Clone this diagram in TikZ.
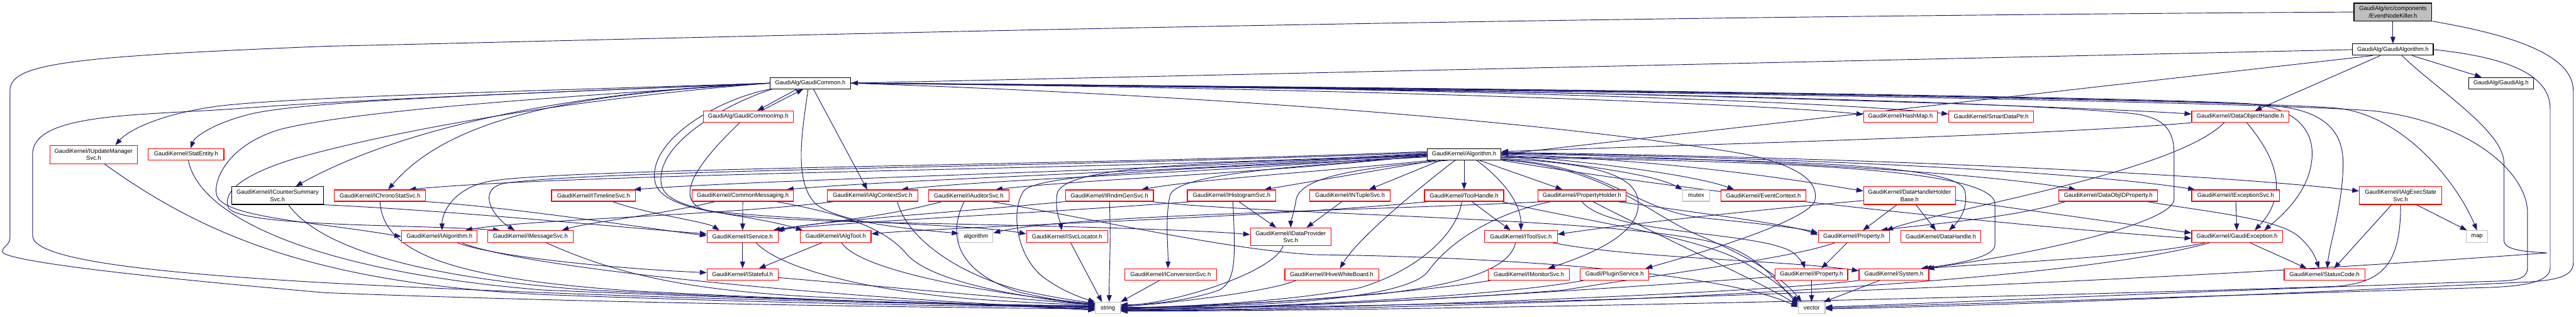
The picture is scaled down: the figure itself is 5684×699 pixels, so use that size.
\documentclass[tikz,border=0pt]{standalone}
\usepackage{fontspec}
\setmainfont{Liberation Sans}
\usetikzlibrary{arrows.meta,calc,backgrounds}
\definecolor{ec}{HTML}{191970}
\definecolor{gb}{HTML}{BFBFBF}
\tikzset{
 nb/.style={draw=black, fill=white, line width=0.8pt, inner sep=0pt, align=center, font=\fontsize{6.5pt}{8pt}\selectfont},
 rb/.style={nb, draw=red},
 gbx/.style={nb, draw=gb},
 kb/.style={nb, fill=gb},
 e/.style={draw=ec, line width=0.65pt, -{Triangle[length=7.5pt,width=5.5pt]}},
}
\newcommand\nd[7]{\node[#6, minimum width=#4*0.5pt, minimum height=#5*0.5pt] (#1) at (#2,#3) {#7};}
\begin{document}
\begin{tikzpicture}[x=0.5pt,y=-0.5pt]
\useasboundingbox (0,0) rectangle (5684,699);
% ---------------- nodes
\nd{ENK}{5280}{26.5}{172}{39}{kb}{GaudiAlg/src/components\\/EventNodeKiller.h}
\nd{GA}{5280}{109.5}{178}{25}{nb}{GaudiAlg/GaudiAlgorithm.h}
\nd{GAH}{5518.5}{183.5}{143}{25}{nb}{GaudiAlg/GaudiAlg.h}
\nd{GC}{1788}{183.5}{178}{25}{nb}{GaudiAlg/GaudiCommon.h}
\nd{GCI}{1651}{257.5}{198}{25}{rb}{GaudiAlg/GaudiCommonImp.h}
\nd{HM}{4193.5}{257.5}{163}{25}{rb}{GaudiKernel/HashMap.h}
\nd{SDP}{4393.5}{257.5}{187}{25}{rb}{GaudiKernel/SmartDataPtr.h}
\nd{DOH}{4943.5}{257.5}{215}{25}{rb}{GaudiKernel/DataObjectHandle.h}
\nd{UMS}{206.5}{341}{193}{40}{rb}{GaudiKernel/IUpdateManager\\Svc.h}
\nd{SE}{410.5}{340.5}{167}{25}{rb}{GaudiKernel/StatEntity.h}
\nd{ALG}{3230.5}{340.5}{163}{25}{nb}{GaudiKernel/Algorithm.h}
\nd{CSS}{612.5}{431.5}{203}{39}{nb}{GaudiKernel/ICounterSummary\\Svc.h}
\nd{CSV}{838.5}{431.5}{201}{25}{rb}{GaudiKernel/IChronoStatSvc.h}
\nd{TLS}{1309.5}{431.5}{185}{25}{rb}{GaudiKernel/ITimelineSvc.h}
\nd{CM}{1639}{431.5}{224}{25}{rb}{GaudiKernel/CommonMessaging.h}
\nd{ACS}{1925.5}{431.5}{199}{25}{rb}{GaudiKernel/IAlgContextSvc.h}
\nd{AUD}{2137.5}{431.5}{177}{25}{rb}{GaudiKernel/IAuditorSvc.h}
\nd{RND}{2448}{431.5}{194}{25}{rb}{GaudiKernel/IRndmGenSvc.h}
\nd{HIS}{2717.5}{431.5}{195}{25}{rb}{GaudiKernel/IHistogramSvc.h}
\nd{NTS}{2979}{431.5}{178}{25}{rb}{GaudiKernel/INTupleSvc.h}
\nd{TH}{3230.5}{431.5}{175}{25}{rb}{GaudiKernel/ToolHandle.h}
\nd{PH}{3490.5}{431.5}{195}{25}{rb}{GaudiKernel/PropertyHolder.h}
\nd{MTX}{3742.5}{431.5}{59}{25}{gbx}{mutex}
\nd{EC}{3891}{431.5}{188}{25}{rb}{GaudiKernel/EventContext.h}
\nd{DHHB}{4213.5}{431.5}{203}{39}{rb}{GaudiKernel/DataHandleHolder\\Base.h}
\nd{DOP}{4652}{431.5}{218}{25}{rb}{GaudiKernel/DataObjIDProperty.h}
\nd{EXS}{4933}{431.5}{194}{25}{rb}{GaudiKernel/IExceptionSvc.h}
\nd{AES}{5297}{431.5}{182}{39}{rb}{GaudiKernel/IAlgExecState\\Svc.h}
\nd{IA}{969.5}{522}{167}{26}{rb}{GaudiKernel/IAlgorithm.h}
\nd{MS}{1170.5}{522}{189}{26}{rb}{GaudiKernel/IMessageSvc.h}
\nd{SVC}{1638.5}{522}{157}{26}{rb}{GaudiKernel/IService.h}
\nd{AT}{1844}{522}{156}{26}{rb}{GaudiKernel/IAlgTool.h}
\nd{ALGO}{2153.5}{522}{75}{26}{gbx}{algorithm}
\nd{SL}{2354.5}{522}{179}{26}{rb}{GaudiKernel/ISvcLocator.h}
\nd{DPS}{2848}{522.5}{178}{39}{rb}{GaudiKernel/IDataProvider\\Svc.h}
\nd{TS}{3356}{522}{160}{26}{rb}{GaudiKernel/IToolSvc.h}
\nd{PR}{4090.5}{522}{157}{26}{rb}{GaudiKernel/Property.h}
\nd{DH}{4282.5}{522}{177}{26}{rb}{GaudiKernel/DataHandle.h}
\nd{GE}{4936}{522}{200}{26}{rb}{GaudiKernel/GaudiException.h}
\nd{MAP}{5465.5}{522}{47}{26}{gbx}{map}
\nd{ST}{1638.5}{605.5}{157}{25}{rb}{GaudiKernel/IStateful.h}
\nd{CVS}{2583}{605.5}{202}{25}{rb}{GaudiKernel/IConversionSvc.h}
\nd{HWB}{2938.5}{605.5}{207}{25}{rb}{GaudiKernel/IHiveWhiteBoard.h}
\nd{MON}{3373.5}{605.5}{179}{25}{rb}{GaudiKernel/IMonitorSvc.h}
\nd{PS}{3562.5}{605.5}{151}{25}{rb}{Gaudi/PluginService.h}
\nd{IP}{3997}{605.5}{160}{25}{rb}{GaudiKernel/IProperty.h}
\nd{SYS}{4179}{605.5}{154}{25}{rb}{GaudiKernel/System.h}
\nd{SC}{5129}{605.5}{178}{25}{rb}{GaudiKernel/StatusCode.h}
\nd{STR}{2444.5}{679.5}{55}{25}{gbx}{string}
\nd{VEC}{3997.5}{679.5}{59}{25}{gbx}{vector}
% ---------------- edges
\begin{scope}[on background layer]
\fill[white] (0,0) rectangle (5684,699);
% EventNodeKiller
\draw[e] (ENK) -- (GA);
\draw[e] (ENK.west) .. controls (3000,40) and (1500,85) .. (720,102) .. controls (150,125) and (22,140) .. (22,200) -- (22,525) .. controls (22,540) and (5,545) .. (5,555) .. controls (5,575) and (300,610) .. (720,646) .. controls (1300,668) and (2000,678) .. ($(STR.west)+(0,2)$);
\draw[e] (ENK.south east) .. controls (5500,70) and (5678,110) .. (5678,200) -- (5678,580) .. controls (5678,610) and (5640,618) .. (5580,622) .. controls (5000,650) and (4400,675) .. ($(VEC.east)+(0,2)$);
% GaudiAlgorithm
\draw[e] (GA) -- (GAH);
\draw[e] (GA.west) -- (GC.east);
\draw[e] ($(GA.south)+(-45,0)$) -- (ALG.east);
\draw[e] ($(GA.south)+(-28,0)$) -- ($(DOH.north)+(32,0)$);
\draw[e] ($(GA.south)+(20,0)$) .. controls (5380,200) and (5525,290) .. (5525,360) -- (5525,530) .. controls (5525,552) and (5570,555) .. (5620,558) .. controls (4500,640) and (3000,685) .. ($(STR.east)+(0,-2)$);
\draw[e] (GA.east) .. controls (5520,125) and (5627,160) .. (5627,240) -- (5627,590) .. controls (5627,620) and (5580,630) .. (5500,634) .. controls (4800,655) and (4300,672) .. (VEC.east);
% GaudiCommon left
\draw[e] (GC.west) .. controls (1200,200) and (700,212) .. (500,232) .. controls (380,245) and (290,280) .. ($(UMS.north)+(48,0)$);
\draw[e] (GC.west) .. controls (1200,205) and (700,220) .. (560,250) .. controls (480,268) and (430,300) .. ($(SE.north)+(10,0)$);
\draw[e] (GC.west) .. controls (1200,205) and (850,300) .. ($(CSS.north)+(40,0)$);
\draw[e] (GC.west) .. controls (1300,205) and (1000,250) .. ($(CSV.north)+(18,0)$);
\draw[e] (GC.west) .. controls (1300,210) and (800,240) .. (620,285) .. controls (500,320) and (470,400) .. (478,430) .. controls (490,480) and (700,490) .. (IA.west);
\draw[e] (GC.west) .. controls (1300,215) and (900,280) .. (650,350) .. controls (520,390) and (490,430) .. (505,460) .. controls (540,500) and (900,495) .. ($(MS.north west)+(28,0)$);
\draw[e] (GC.west) .. controls (1200,205) and (800,218) .. (520,240) .. controls (300,255) and (72,250) .. (72,340) -- (72,520) .. controls (72,570) and (300,600) .. (720,624) .. controls (1400,660) and (2100,672) .. ($(STR.west)+(0,-4)$);
% GaudiCommon down
\draw[e] ($(GC.south)+(-30,0)$) -- ($(GCI.north)+(20,0)$);
\draw[e] ($(GCI.north)+(29,0)$) -- ($(GC.south)+(-16,0)$);
\draw[e] ($(GC.south)+(7,0)$) -- ($(ACS.north)+(-12,0)$);
\draw[e] ($(GC.south)+(-5,0)$) .. controls (1770,290) and (1750,400) .. (1800,450) .. controls (1850,490) and (2000,505) .. ($(ALGO.west)+(0,-7)$);
\draw[e] ($(GC.south west)+(5,0)$) .. controls (1600,230) and (1440,320) .. (1460,410) .. controls (1475,470) and (1650,470) .. ($(AT.north west)+(6,0)$);
\draw[e] (GC.south west) .. controls (1580,220) and (1430,310) .. (1445,400) .. controls (1460,480) and (1700,485) .. (2000,492) .. controls (2400,500) and (2650,508) .. ($(DPS.west)+(0,-5)$);
\draw[e] ($(GCI.south)+(-19,0)$) .. controls (1560,340) and (1470,440) .. (1560,465) .. controls (1800,490) and (2150,495) .. ($(SL.west)+(0,-6)$);
% GaudiCommon right
\draw[e] (GC.east) .. controls (3000,195) and (3900,230) .. ($(HM.west)+(0,-5)$);
\draw[e] (GC.east) .. controls (3000,190) and (4000,220) .. ($(SDP.west)+(0,-6)$);
\draw[e] (GC.east) .. controls (3200,190) and (4500,230) .. ($(DOH.west)+(0,-6)$);
\draw[e] (GC.east) .. controls (3500,195) and (4700,215) .. (4950,228) .. controls (5080,235) and (5110,300) .. (5100,360) .. controls (5090,430) and (5030,480) .. ($(GE.north)+(60,0)$);
\draw[e] (GC.east) .. controls (3500,196) and (4800,218) .. (5000,232) .. controls (5130,240) and (5170,290) .. (5170,360) .. controls (5170,450) and (5140,540) .. ($(SC.north)+(6,0)$);
\draw[e] (GC.east) .. controls (3500,197) and (4900,220) .. (5150,238) .. controls (5300,250) and (5420,400) .. (MAP.north);
\draw[e] (GC.east) .. controls (3500,198) and (5000,225) .. (5240,245) .. controls (5450,270) and (5577,380) .. (5577,470) -- (5577,590) .. controls (5577,612) and (5560,618) .. (5520,620) .. controls (4900,640) and (4300,668) .. ($(VEC.east)+(0,-2)$);
\draw[e] (GC.east) .. controls (3500,200) and (4400,222) .. (4700,250) .. controls (4780,258) and (4797,290) .. (4797,340) -- (4797,440) .. controls (4797,490) and (4500,560) .. ($(SYS.north east)+(-10,0)$);
\draw[e] (GC.east) .. controls (2800,215) and (3500,280) .. (3850,340) .. controls (3990,370) and (4010,410) .. (4005,440) .. controls (4000,480) and (3800,545) .. ($(PS.north east)+(-8,0)$);
% Algorithm left
\draw[e] ($(ALG.west)+(0,-6)$) .. controls (2400,365) and (1250,370) .. (1080,400) .. controls (1000,415) and (975,470) .. ($(IA.north)+(6,0)$);
\draw[e] ($(ALG.west)+(0,-4)$) .. controls (2400,368) and (1300,374) .. (1110,405) .. controls (1050,420) and (1090,480) .. ($(MS.north)+(-35,0)$);
\draw[e] ($(ALG.west)+(0,-2)$) .. controls (2600,372) and (1300,380) .. ($(CSV.north east)+(-37,0)$);
\draw[e] ($(ALG.west)+(0,-1)$) .. controls (2600,375) and (1700,395) .. ($(TLS.north east)+(-4,0)$);
\draw[e] (ALG.west) .. controls (2600,378) and (2000,395) .. ($(CM.north east)+(-16,0)$);
\draw[e] ($(ALG.west)+(0,1)$) .. controls (2700,380) and (2200,395) .. ($(ACS.north east)+(-37,0)$);
\draw[e] ($(ALG.west)+(0,2)$) .. controls (2800,382) and (2400,395) .. ($(AUD.north east)+(-30,0)$);
\draw[e] ($(ALG.south west)+(10,0)$) .. controls (2900,380) and (2650,395) .. ($(RND.north east)+(-27,0)$);
\draw[e] ($(ALG.south west)+(20,0)$) -- ($(HIS.north east)+(-26,0)$);
\draw[e] ($(ALG.south west)+(30,0)$) -- ($(NTS.north east)+(-48,0)$);
\draw[e] ($(ALG.west)+(0,3)$) .. controls (2700,360) and (2340,360) .. (2332,430) .. controls (2328,470) and (2340,490) .. ($(SL.north)+(-12,0)$);
\draw[e] ($(ALG.west)+(0,4)$) .. controls (2900,365) and (2600,380) .. (2582,430) .. controls (2570,480) and (2578,550) .. ($(CVS.north)+(-6,0)$);
\draw[e] ($(ALG.west)+(0,6)$) .. controls (2700,370) and (2300,380) .. (2260,420) .. controls (2230,460) and (2240,560) .. (2300,610) .. controls (2340,640) and (2380,655) .. (STR.north west);
\draw[e] ($(ALG.south west)+(46,0)$) .. controls (3000,370) and (2870,390) .. (2860,440) .. controls (2855,470) and (2848,490) .. (DPS.north);
\draw[e] ($(ALG.south)+(-20,0)$) .. controls (3150,400) and (3000,520) .. ($(HWB.north)+(18,0)$);
\draw[e] (ALG) -- (TH);
\draw[e] ($(ALG.south)+(28,0)$) .. controls (3320,400) and (3356,450) .. (TS.north);
\draw[e] ($(ALG.south)+(34,0)$) -- ($(PH.north)+(-43,0)$);
% Algorithm right
\draw[e] ($(ALG.east)+(0,3)$) .. controls (3500,365) and (3650,385) .. (MTX.north west);
\draw[e] ($(ALG.east)+(0,1)$) .. controls (3550,360) and (3750,390) .. ($(EC.north west)+(30,0)$);
\draw[e] ($(ALG.east)+(0,-1)$) .. controls (3700,355) and (3950,395) .. ($(DHHB.west)+(0,-10)$);
\draw[e] ($(ALG.east)+(0,-2)$) .. controls (3900,350) and (4400,385) .. ($(DOP.north west)+(38,0)$);
\draw[e] ($(ALG.east)+(0,-3)$) .. controls (4000,348) and (4600,380) .. ($(EXS.north west)+(8,0)$);
\draw[e] ($(ALG.east)+(0,-4)$) .. controls (4100,346) and (4900,385) .. ($(AES.west)+(0,-10)$);
\draw[e] ($(ALG.east)+(0,5)$) .. controls (3900,352) and (4320,360) .. (4335,420) .. controls (4345,460) and (4320,490) .. ($(DH.north)+(18,0)$);
\draw[e] ($(ALG.east)+(0,7)$) .. controls (3900,355) and (4400,370) .. (4402,450) -- (4402,540) .. controls (4402,570) and (4300,585) .. ($(SYS.north east)+(-18,0)$);
\draw[e] ($(ALG.east)+(0,9)$) .. controls (3500,360) and (3615,380) .. (3615,450) .. controls (3615,500) and (3560,545) .. ($(MON.north east)+(-48,0)$);
\draw[e] ($(ALG.east)+(0,11)$) .. controls (3550,365) and (3600,460) .. (3750,480) .. controls (3900,495) and (3980,505) .. ($(PR.west)+(0,-8)$);
\draw[e] ($(ALG.east)+(0,12)$) .. controls (3550,370) and (3630,470) .. (3750,520) .. controls (3870,570) and (3940,620) .. ($(VEC.north west)+(8,0)$);
\draw[e] ($(ALG.east)+(0,13)$) .. controls (3700,420) and (4400,495) .. ($(GE.west)+(0,4)$);
% first row sources
\draw[e] ($(UMS.south)+(24,0)$) .. controls (450,520) and (700,625) .. (1200,650) .. controls (1800,672) and (2200,677) .. ($(STR.west)+(0,-3)$);
\draw[e] ($(SE.south)+(5,0)$) .. controls (440,480) and (700,600) .. (1200,640) .. controls (1800,665) and (2200,673) .. ($(STR.west)+(0,-5)$);
\draw[e] ($(CSS.south)+(24,0)$) .. controls (700,540) and (900,610) .. (1300,640) .. controls (1800,665) and (2200,672) .. ($(STR.west)+(0,-1)$);
\draw[e] (CSS.south east) .. controls (1000,465) and (1350,500) .. ($(SVC.west)+(0,-6)$);
\draw[e] (CSV.south east) .. controls (1150,460) and (1400,500) .. ($(SVC.west)+(0,-2)$);
\draw[e] (CSV.south) .. controls (845,560) and (1000,615) .. (1400,642) .. controls (1900,668) and (2250,675) .. ($(STR.west)+(0,1)$);
\draw[e] ($(TLS.south)+(42,0)$) .. controls (1420,470) and (1560,490) .. ($(SVC.north west)+(28,0)$);
\draw[e] (CM) -- (SVC);
\draw[e] ($(CM.south west)+(52,0)$) .. controls (1450,475) and (1300,490) .. ($(MS.north east)+(-26,0)$);
\draw[e] ($(CM.south east)+(-39,0)$) .. controls (1850,470) and (1950,500) .. (2000,560) .. controls (2060,630) and (2300,660) .. ($(STR.west)+(0,-6)$);
\draw[e] ($(ACS.south west)+(15,0)$) .. controls (1600,475) and (1150,485) .. ($(IA.north east)+(-27,0)$);
\draw[e] ($(ACS.south east)+(-46,0)$) .. controls (2000,520) and (2100,600) .. (2250,640) .. controls (2340,660) and (2390,665) .. ($(STR.west)+(0,-10)$);
\draw[e] ($(AUD.south west)+(30,0)$) .. controls (1950,480) and (1780,495) .. ($(SVC.north east)+(-12,0)$);
\draw[e] ($(AUD.south)+(-10,0)$) .. controls (2090,520) and (2110,600) .. (2250,645) .. controls (2340,665) and (2390,670) .. ($(STR.west)+(0,-11)$);
\draw[e] ($(AUD.south east)+(-40,0)$) .. controls (2400,480) and (2700,550) .. (2900,562) .. controls (3300,566) and (3800,600) .. ($(VEC.west)+(0,-2)$);
\draw[e] (RND.south west) .. controls (2150,465) and (1800,488) .. ($(SVC.north east)+(-2,0)$);
\draw[e] (RND.south) .. controls (2452,540) and (2447,600) .. ($(STR.north)+(3,0)$);
\draw[e] ($(RND.south east)+(-5,0)$) .. controls (2800,475) and (3600,480) .. (3800,540) .. controls (3880,565) and (3920,620) .. ($(VEC.west)+(0,-8)$);
\draw[e] ($(HIS.south west)+(12,0)$) .. controls (2300,470) and (1850,490) .. ($(SVC.north east)+(-6,0)$);
\draw[e] ($(HIS.south)+(16,0)$) -- ($(DPS.north)+(-32,0)$);
\draw[e] ($(HIS.south)+(3,0)$) .. controls (2725,560) and (2730,620) .. (2690,640) .. controls (2620,665) and (2530,672) .. ($(STR.east)+(0,-7)$);
\draw[e] ($(NTS.south)+(-18,0)$) -- ($(DPS.north)+(35,0)$);
\draw[e] ($(TH.south)+(17,0)$) -- ($(TS.north)+(-23,0)$);
\draw[e] ($(TH.south west)+(10,0)$) .. controls (2800,480) and (2100,500) .. ($(AT.east)+(0,-6)$);
\draw[e] ($(TH.south)+(-5,0)$) .. controls (3215,520) and (3120,600) .. (3000,635) .. controls (2850,665) and (2600,678) .. ($(STR.east)+(0,-1)$);
\draw[e] ($(TH.south east)+(-5,0)$) .. controls (3450,480) and (3750,520) .. (3850,580) .. controls (3920,620) and (3950,650) .. ($(VEC.north west)+(2,0)$);
\draw[e] ($(PH.south east)+(-20,0)$) .. controls (3750,470) and (3950,495) .. ($(PR.west)+(0,-4)$);
\draw[e] (PH.south) .. controls (3550,520) and (3900,510) .. (3960,560) .. controls (3975,575) and (3980,585) .. ($(IP.north)+(-15,0)$);
\draw[e] ($(PH.south)+(24,0)$) .. controls (3700,540) and (3900,630) .. ($(VEC.west)+(0,-5)$);
\draw[e] ($(PH.south west)+(18,0)$) .. controls (3000,465) and (2350,475) .. ($(ALGO.east)+(0,-8)$);
\draw[e] ($(PH.south west)+(30,0)$) .. controls (3300,470) and (3200,530) .. (3150,600) .. controls (3100,660) and (2800,676) .. (STR.east);
\draw[e] ($(DHHB.south)+(14,0)$) -- ($(DH.north)+(-11,0)$);
\draw[e] ($(DHHB.south)+(-28,0)$) -- ($(PR.north)+(20,0)$);
\draw[e] ($(DHHB.east)+(0,10)$) -- ($(GE.west)+(0,-8)$);
\draw[e] ($(DHHB.west)+(0,11)$) .. controls (3800,470) and (3550,500) .. ($(TS.east)+(0,-5)$);
\draw[e] ($(DOP.south west)+(15,0)$) .. controls (4450,480) and (4250,495) .. ($(PR.north east)+(-20,0)$);
\draw[e] ($(DOP.south east)+(-24,0)$) .. controls (4850,465) and (5020,480) .. (5070,520) .. controls (5100,545) and (5110,570) .. ($(SC.north)+(-12,0)$);
\draw[e] (EXS) -- (GE);
\draw[e] ($(AES.south)+(-20,0)$) -- ($(SC.north)+(21,0)$);
\draw[e] ($(AES.south)+(35,0)$) -- ($(MAP.north west)+(2,0)$);
\draw[e] (AES.south) .. controls (5297,580) and (5260,625) .. (5150,632) .. controls (4300,660) and (3100,686) .. ($(STR.east)+(0,7)$);
% DataObjectHandle
\draw[e] (DOH.south west) .. controls (4500,300) and (3700,320) .. ($(ALG.east)+(0,-6)$);
\draw[e] ($(DOH.south)+(-36,0)$) .. controls (4800,380) and (4300,460) .. ($(PR.north east)+(-8,0)$);
\draw[e] ($(DOH.south)+(14,0)$) .. controls (5050,380) and (5030,450) .. ($(GE.north)+(39,0)$);
% second row sources
\draw[e] ($(IA.south)+(40,0)$) .. controls (1100,570) and (1400,595) .. ($(ST.west)+(0,-4)$);
\draw[e] ($(IA.south)+(50,0)$) .. controls (1150,590) and (1800,655) .. ($(STR.west)+(0,3)$);
\draw[e] ($(MS.south)+(35,0)$) .. controls (1350,600) and (1500,640) .. (1800,655) .. controls (2100,668) and (2300,678) .. ($(STR.west)+(0,5)$);
\draw[e] (SVC) -- (ST);
\draw[e] ($(SVC.south)+(30,0)$) .. controls (1720,590) and (1900,640) .. (2150,660) .. controls (2300,670) and (2380,672) .. ($(STR.west)+(0,-8)$);
\draw[e] ($(AT.south)+(-31,0)$) -- ($(ST.north)+(36,0)$);
\draw[e] ($(AT.south)+(13,0)$) .. controls (1900,600) and (2200,650) .. ($(STR.west)+(0,-9)$);
\draw[e] ($(ST.east)+(0,7)$) .. controls (1900,628) and (2250,660) .. ($(STR.west)+(0,-7)$);
\draw[e] ($(SL.south)+(8,0)$) -- ($(STR.north)+(-13,0)$);
\draw[e] ($(DPS.south west)+(73,0)$) .. controls (2810,600) and (2600,668) .. ($(STR.east)+(0,-5)$);
\draw[e] ($(TS.south)+(-12,0)$) .. controls (3330,600) and (3200,630) .. (3050,648) .. controls (2800,670) and (2550,678) .. ($(STR.east)+(0,1)$);
\draw[e] ($(TS.south east)+(-10,0)$) .. controls (3600,570) and (3950,575) .. ($(SYS.west)+(0,-8)$);
\draw[e] ($(PR.south)+(-15,0)$) -- ($(IP.north)+(22,0)$);
\draw[e] ($(PR.south west)+(37,0)$) .. controls (3950,570) and (3700,600) .. (3450,640) .. controls (3100,668) and (2700,680) .. ($(STR.east)+(0,3)$);
\draw[e] ($(GE.south)+(29,0)$) -- ($(SC.north)+(-39,0)$);
\draw[e] ($(GE.south west)+(30,0)$) .. controls (4700,570) and (4400,580) .. ($(SYS.north east)+(-4,0)$);
\draw[e] ($(GE.south west)+(40,0)$) .. controls (4500,640) and (3200,684) .. ($(STR.east)+(0,6)$);
% third row sources
\draw[e] ($(CVS.south west)+(77,0)$) -- (STR.north east);
\draw[e] ($(HWB.south west)+(25,0)$) .. controls (2800,645) and (2550,672) .. ($(STR.east)+(0,-3)$);
\draw[e] ($(MON.south west)+(6,0)$) .. controls (3100,650) and (2700,676) .. ($(STR.east)+(0,2)$);
\draw[e] ($(PS.south west)+(8,0)$) .. controls (3300,655) and (2800,678) .. ($(STR.east)+(0,4)$);
\draw[e] (IP) -- (VEC);
\draw[e] ($(IP.west)+(0,5)$) .. controls (3500,640) and (2900,680) .. ($(STR.east)+(0,5)$);
\draw[e] ($(SYS.south west)+(46,0)$) -- ($(VEC.north east)+(-4,0)$);
\draw[e] (SYS.south west) .. controls (3900,645) and (3000,682) .. ($(STR.east)+(0,6)$);
\end{scope}
\end{tikzpicture}
\end{document}
